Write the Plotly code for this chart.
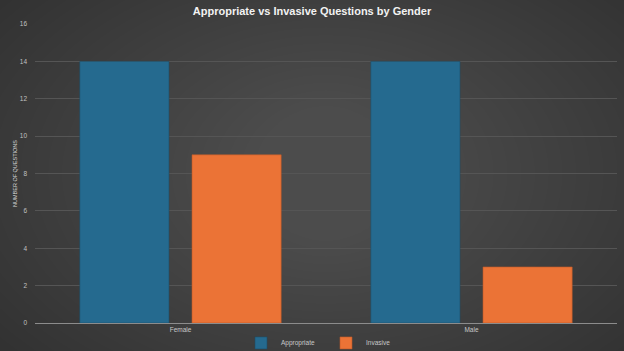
import plotly.graph_objects as go

categories = ["Female", "Male"]
appropriate = [14, 14]
invasive = [9, 3]
y_ticks = [0, 2, 4, 6, 8, 10, 12, 14, 16]

fig = go.Figure()
fig.add_trace(go.Bar(
    name="Appropriate", x=categories, y=appropriate,
    marker=dict(color="#256a8f", line=dict(color="#1c4f6a", width=0.6)),
))
fig.add_trace(go.Bar(
    name="Invasive", x=categories, y=invasive,
    marker=dict(color="#eb7336", line=dict(color="#b9592a", width=0.6)),
))

# soft radial background glow
shapes = []
n = 36
for i in range(n):
    f = i / n
    shapes.append(dict(
        type="circle", xref="paper", yref="paper", layer="below",
        x0=-0.45 + f * 0.85, x1=1.45 - f * 0.85,
        y0=-0.65 + f * 0.95, y1=1.65 - f * 0.95,
        fillcolor="rgba(255,255,255,0.0075)", line=dict(width=0),
    ))

fig.update_layout(
    width=624, height=351,
    margin=dict(l=35, r=7, t=24, b=28),
    paper_bgcolor="#282828",
    plot_bgcolor="rgba(0,0,0,0)",
    shapes=shapes,
    barmode="group",
    bargap=0.229,
    bargroupgap=0.205,
    title=dict(
        text="<b>Appropriate vs Invasive Questions by Gender</b>",
        x=0.5, xanchor="center", y=0.967, yanchor="middle",
        font=dict(family="Liberation Sans, Arial", size=11, color="#f2f2f2"),
    ),
    font=dict(family="Liberation Sans, Arial", color="#bfbfbf"),
    xaxis=dict(
        showgrid=False, showline=True, linecolor="#8c8c8c", linewidth=1,
        tickfont=dict(size=6.5, color="#c8c8c8"), ticks="", ticklen=0,
        automargin=False,
    ),
    yaxis=dict(
        range=[0, 16], tickvals=y_ticks, showgrid=True,
        gridcolor="#555555", gridwidth=1, zeroline=False,
        tickfont=dict(size=6.5, color="#c0c0c0"), ticks="",
        ticklabelstandoff=7, automargin=False,
        title=dict(text="NUMBER OF QUESTIONS", font=dict(size=5.5, color="#d9d9d9"), standoff=1),
    ),
    legend=dict(
        orientation="h", x=0.5, xanchor="center",
        yref="container", y=0.023, yanchor="middle",
        font=dict(size=6.5, color="#c8c8c8"), itemwidth=30,
        entrywidth=40, entrywidthmode="pixels",
        bgcolor="rgba(0,0,0,0)",
    ),
)

fig.write_html("out.html")
